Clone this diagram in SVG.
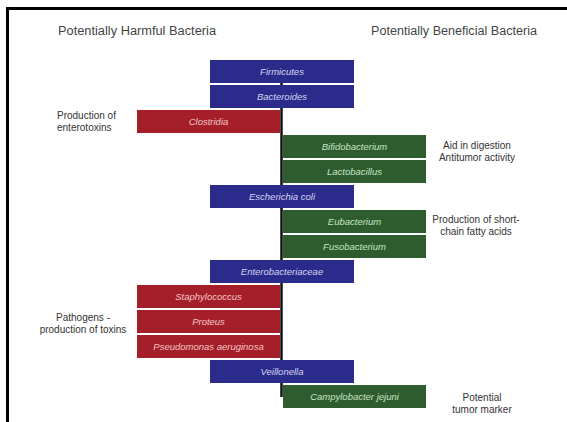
<svg xmlns="http://www.w3.org/2000/svg" width="567" height="422" viewBox="0 0 567 422">
<style>
.hdr{font-family:"Liberation Sans",Arial,sans-serif;font-size:12px;fill:#444}
.side{font-family:"Liberation Sans",Arial,sans-serif;font-size:10px;fill:#333}
.lbl{font-family:"Liberation Sans",Arial,sans-serif;font-size:9.5px;font-style:italic;text-anchor:middle}
.blue rect{fill:#2b2b8c}
.blue text{fill:#d4d4f0}
.red rect{fill:#a51f2a}
.red text{fill:#f4c4c4}
.green rect{fill:#2e5c2e}
.green text{fill:#c8e4c8}
</style>
<rect x="0" y="0" width="567" height="422" fill="#fff"/>
<path d="M7.5,422 V8.5 H567" fill="none" stroke="#000" stroke-width="3"/>
<text class="hdr" x="58" y="35" textLength="158" lengthAdjust="spacingAndGlyphs">Potentially Harmful Bacteria</text>
<text class="hdr" x="371" y="35" textLength="166" lengthAdjust="spacingAndGlyphs">Potentially Beneficial Bacteria</text>
<g id="connectors">
<line x1="281.5" y1="72" x2="281.5" y2="397" stroke="#111" stroke-width="2.5"/>
</g>
<g id="firmicutes" class="blue"><rect x="210" y="60" width="144" height="23"/><text class="lbl" x="282" y="75">Firmicutes</text></g>
<g id="bacteroides" class="blue"><rect x="210" y="85" width="144" height="23"/><text class="lbl" x="282" y="100">Bacteroides</text></g>
<g id="clostridia" class="red"><rect x="137" y="110" width="143" height="23"/><text class="lbl" x="208.5" y="125">Clostridia</text></g>
<g id="bifidobacterium" class="green"><rect x="283" y="135" width="143" height="23"/><text class="lbl" x="354.5" y="150">Bifidobacterium</text></g>
<g id="lactobacillus" class="green"><rect x="283" y="160" width="143" height="23"/><text class="lbl" x="354.5" y="175">Lactobacillus</text></g>
<g id="ecoli" class="blue"><rect x="210" y="185" width="144" height="23"/><text class="lbl" x="282" y="200">Escherichia coli</text></g>
<g id="eubacterium" class="green"><rect x="283" y="210" width="143" height="23"/><text class="lbl" x="354.5" y="225">Eubacterium</text></g>
<g id="fusobacterium" class="green"><rect x="283" y="235" width="143" height="23"/><text class="lbl" x="354.5" y="250">Fusobacterium</text></g>
<g id="enterobacteriaceae" class="blue"><rect x="210" y="260" width="144" height="23"/><text class="lbl" x="282" y="275">Enterobacteriaceae</text></g>
<g id="staphylococcus" class="red"><rect x="137" y="285" width="143" height="23"/><text class="lbl" x="208.5" y="300">Staphylococcus</text></g>
<g id="proteus" class="red"><rect x="137" y="310" width="143" height="23"/><text class="lbl" x="208.5" y="325">Proteus</text></g>
<g id="pseudomonas" class="red"><rect x="137" y="335" width="143" height="23"/><text class="lbl" x="208.5" y="350">Pseudomonas aeruginosa</text></g>
<g id="veillonella" class="blue"><rect x="210" y="360" width="144" height="23"/><text class="lbl" x="282" y="375">Veillonella</text></g>
<g id="campylobacter" class="green"><rect x="283" y="385" width="143" height="23"/><text class="lbl" x="354.5" y="400">Campylobacter jejuni</text></g>
<g id="note-enterotoxins"><text class="side" x="57" y="119">Production of</text><text class="side" x="57" y="131">enterotoxins</text></g>
<g id="note-digestion"><text class="side" x="477" y="149" text-anchor="middle">Aid in digestion</text><text class="side" x="477" y="161" text-anchor="middle">Antitumor activity</text></g>
<g id="note-scfa"><text class="side" x="476" y="223" text-anchor="middle">Production of short-</text><text class="side" x="476" y="235" text-anchor="middle">chain fatty acids</text></g>
<g id="note-pathogens"><text class="side" x="83" y="321" text-anchor="middle">Pathogens -</text><text class="side" x="83" y="333" text-anchor="middle">production of toxins</text></g>
<g id="note-tumor"><text class="side" x="482" y="401" text-anchor="middle">Potential</text><text class="side" x="482" y="413" text-anchor="middle">tumor marker</text></g>
</svg>
